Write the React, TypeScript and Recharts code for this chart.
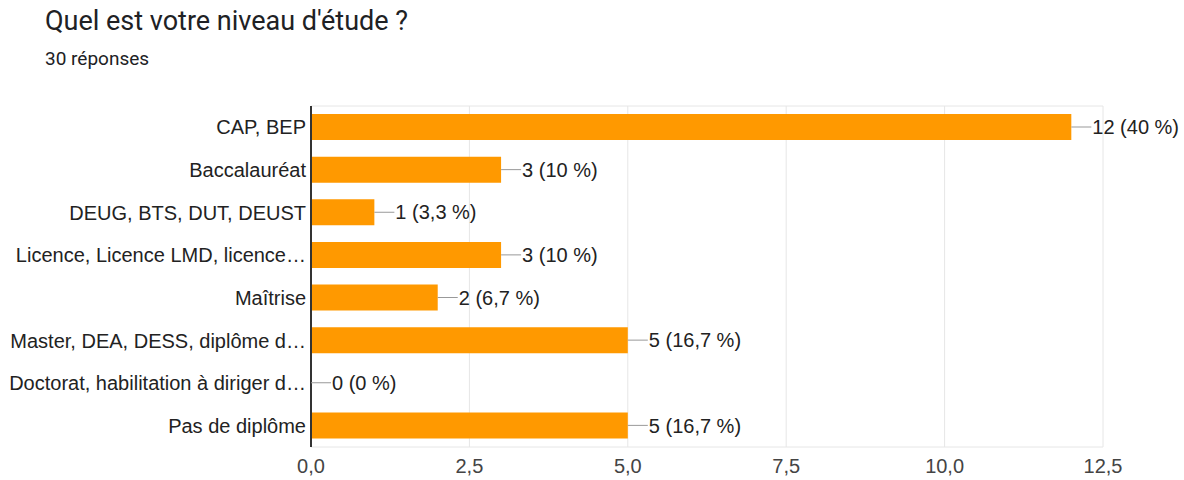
import React from "react";
import { BarChart, Bar, XAxis, YAxis, CartesianGrid, LabelList, ReferenceLine } from "recharts";

// Répartition des réponses (30 au total)
const categories = [
  "CAP, BEP",
  "Baccalauréat",
  "DEUG, BTS, DUT, DEUST",
  "Licence, Licence LMD, licence…",
  "Maîtrise",
  "Master, DEA, DESS, diplôme d…",
  "Doctorat, habilitation à diriger d…",
  "Pas de diplôme",
];
const counts = [12, 3, 1, 3, 2, 5, 0, 5];
const totalResponses = 30;
const xTicks = [0, 2.5, 5, 7.5, 10, 12.5];

const ORANGE = "#ff9900";
const TITLE_FONT = "Roboto, 'Noto Sans', sans-serif";
const CHART_FONT = "'Liberation Sans', Arial, sans-serif";

const data = categories.map((name, i) => ({ name, count: counts[i] }));

const frNumber = (v: number, digits: number) => v.toFixed(digits).replace(".", ",");

const pctLabel = (v: number) => {
  const p = Math.round((v / totalResponses) * 1000) / 10;
  const txt = Number.isInteger(p) ? String(p) : frNumber(p, 1);
  return `${v} (${txt} %)`;
};

function BarValueLabel(props: any) {
  const { x, y, width, height, value } = props;
  const x0 = Number(x) + Number(width);
  const cy = Number(y) + Number(height) / 2;
  return (
    <g>
      <line x1={x0} y1={cy} x2={x0 + 20} y2={cy} stroke="#999" strokeWidth={1} />
      <text
        x={x0 + 21}
        y={cy}
        dy="0.36em"
        fontSize={20}
        fontFamily={CHART_FONT}
        fill="#222"
      >
        {pctLabel(Number(value))}
      </text>
    </g>
  );
}

export default function App() {
  return (
    <div
      style={{
        position: "absolute",
        left: 0,
        top: 0,
        width: 1184,
        height: 480,
        background: "#fff",
        fontFamily: TITLE_FONT,
      }}
    >
      <div style={{ position: "absolute", left: 45, top: 5, fontSize: 27, color: "#202124" }}>
        Quel est votre niveau d'étude ?
      </div>
      <div style={{ position: "absolute", left: 45, top: 47, fontSize: 19, color: "#202124" }}>
        {totalResponses} réponses
      </div>
      <BarChart
        width={1184}
        height={480}
        data={data}
        layout="vertical"
        margin={{ top: 106, right: 81, bottom: 3, left: 0 }}
      >
        <CartesianGrid
          stroke="#e6e6e6"
          horizontalCoordinatesGenerator={({ offset }: any) => [
            offset.top,
            offset.top + offset.height,
          ]}
        />
        <XAxis
          type="number"
          domain={[0, 12.5]}
          ticks={xTicks}
          tickFormatter={(v: number) => frNumber(v, 1)}
          axisLine={false}
          tickLine={false}
          tickSize={0}
          tickMargin={12}
          height={30}
          tick={{ fontSize: 20, fill: "#444", fontFamily: CHART_FONT }}
          interval={0}
        />
        <YAxis
          type="category"
          dataKey="name"
          width={311}
          axisLine={false}
          tickLine={false}
          tickSize={0}
          tickMargin={5}
          interval={0}
          tick={{ fontSize: 20, fill: "#222", fontFamily: CHART_FONT }}
        />
        <Bar
          dataKey="count"
          fill={ORANGE}
          barSize={26}
          minPointSize={0.01}
          isAnimationActive={false}
        >
          <LabelList dataKey="count" content={<BarValueLabel />} />
        </Bar>
        <ReferenceLine x={0} stroke="#333" strokeWidth={2} />
      </BarChart>
    </div>
  );
}
